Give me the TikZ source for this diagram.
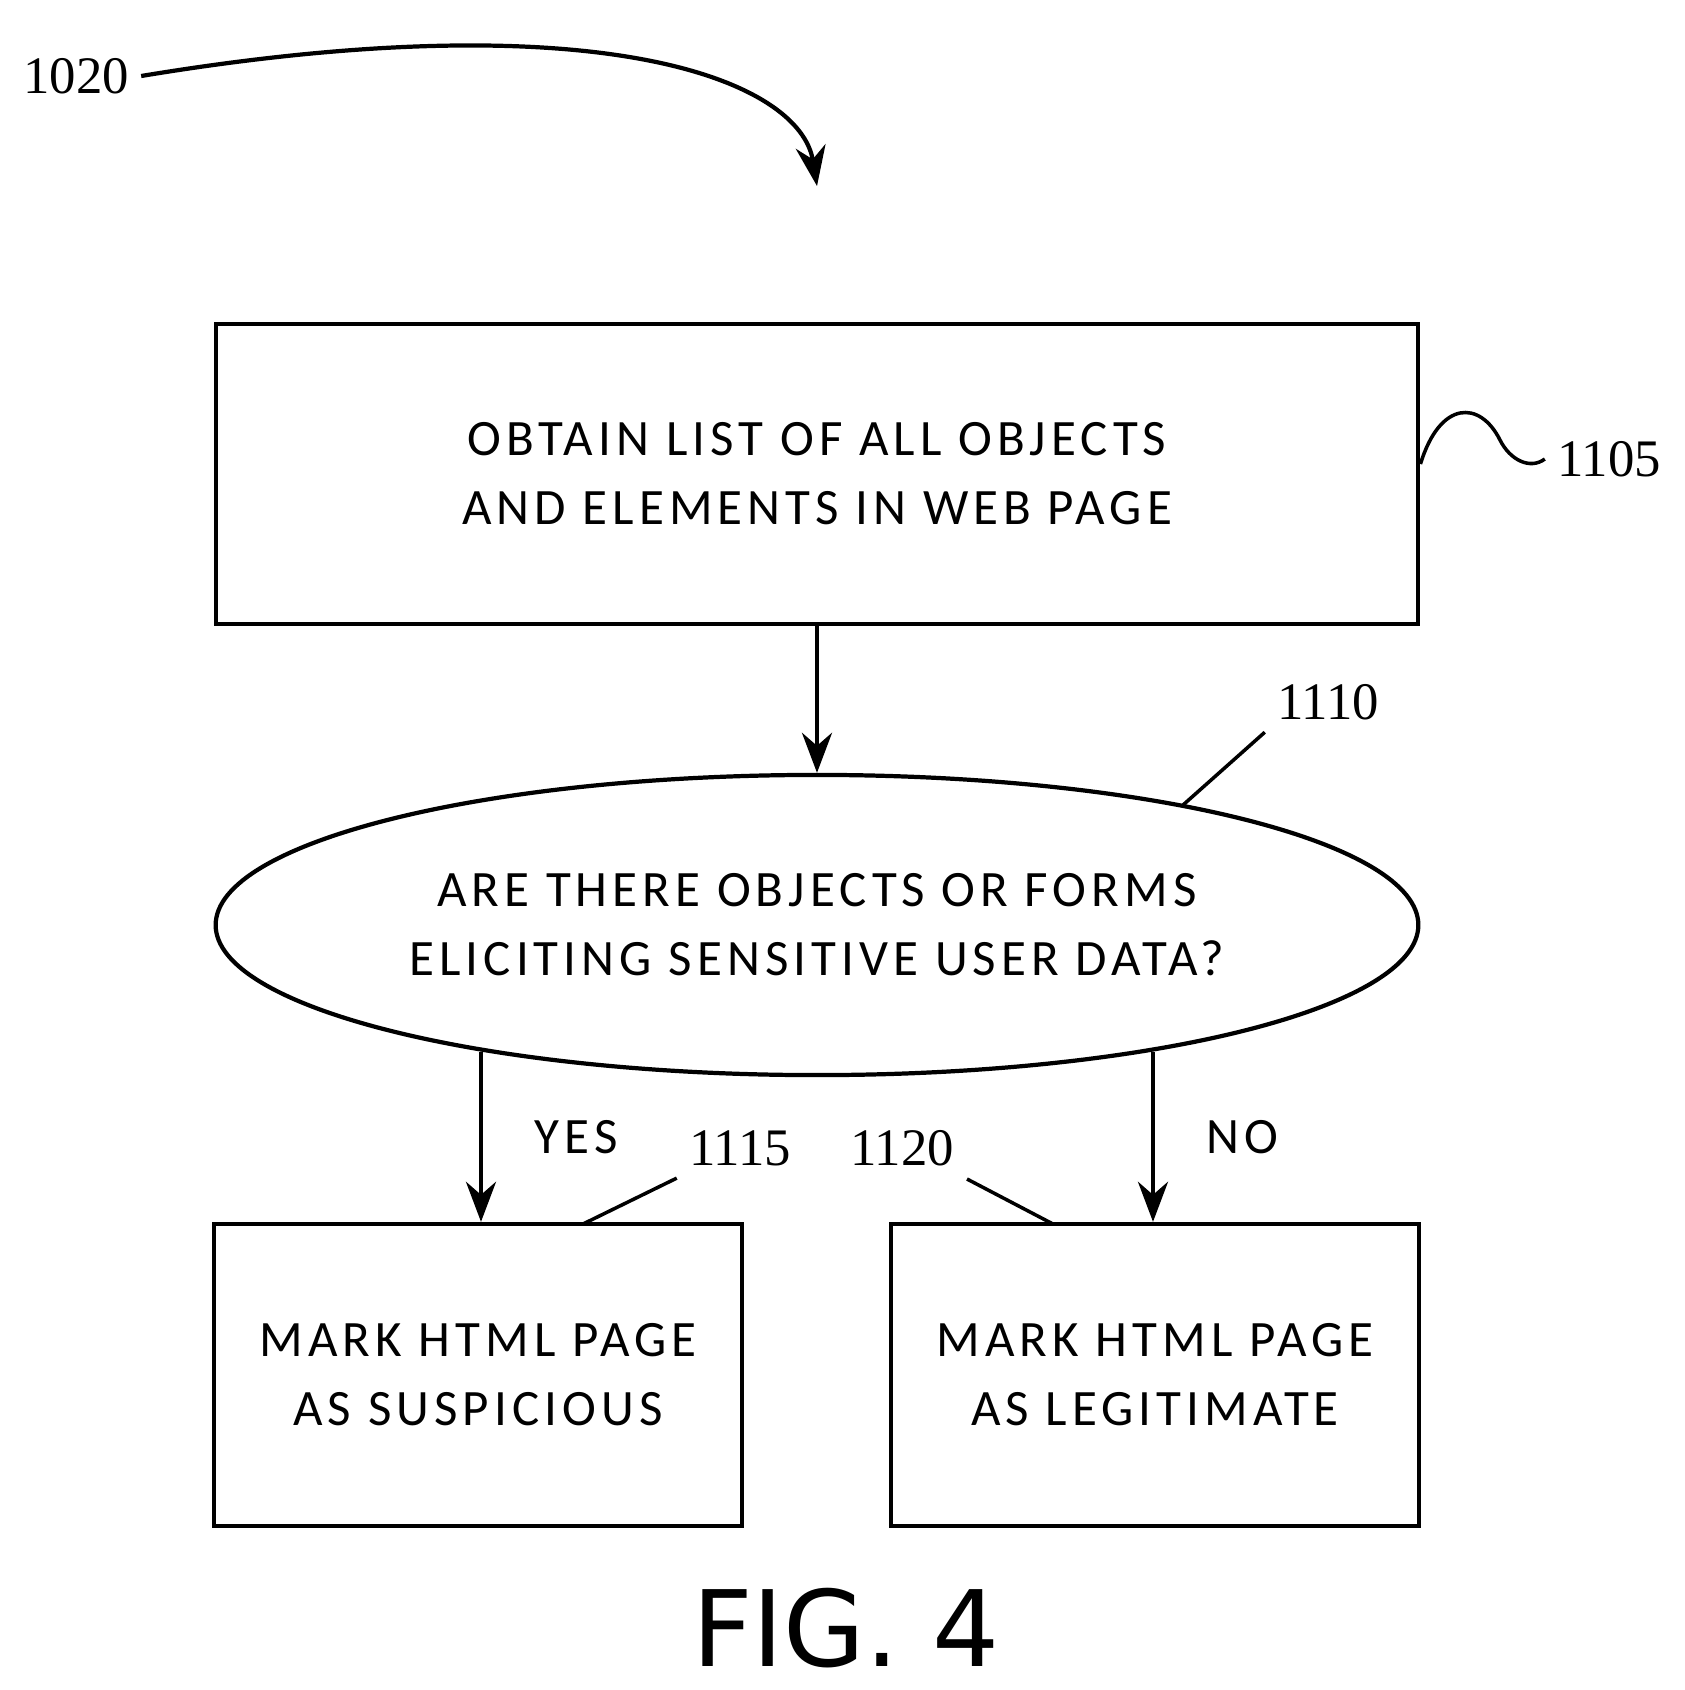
\documentclass[tikz,border=0pt]{standalone}
\usepackage{fontspec}
\setmainfont{Carlito}[LetterSpace=10]
\newfontfamily\numfont{Liberation Serif}
\newfontfamily\figfont{DejaVu Sans}
\usetikzlibrary{arrows.meta,shapes.geometric,positioning}

\begin{document}
\begin{tikzpicture}[x=0.01cm,y=-0.01cm,
	box/.style={draw, line width=1.2pt, minimum width=12.02cm, minimum height=3cm, align=center, font=\fontsize{14.5}{19.6}\selectfont},
	smallbox/.style={box, minimum width=5.28cm, minimum height=3.02cm},
	decision/.style={box, ellipse},
	flow/.style={-{Stealth[length=4mm,width=3mm]}, line width=1.2pt},
	refnum/.style={font=\numfont\fontsize{15}{15}\selectfont},
	leader/.style={line width=1pt}]
	\useasboundingbox (0,0) rectangle (1685,1690);

	% steps
	\node [box] (obtain) at (817,474) {OBTAIN LIST OF ALL OBJECTS\\AND ELEMENTS IN WEB PAGE};
	\node [decision, minimum height=3cm] (check) at (817,925) {ARE THERE OBJECTS OR FORMS\\ELICITING SENSITIVE USER DATA?};
	\node [smallbox] (suspicious) at (478,1375) {MARK HTML PAGE\\AS SUSPICIOUS};
	\node [smallbox] (legit) at (1155,1375) {MARK HTML PAGE\\AS LEGITIMATE};

	% reference numerals
	\node [refnum] (r1020) at (76,76) {1020};
	\node [refnum] (r1105) at (1609,459) {1105};
	\node [refnum] (r1110) at (1328,702) {1110};
	\node [refnum] (r1115) at (740,1148) {1115};
	\node [refnum] (r1120) at (902,1148) {1120};
	\coordinate (entry) at (817,186);

	% flow
	\draw [flow] (r1020.east) .. controls (600,0) and (800,80) .. (entry);
	\draw [flow] (obtain) -- (check);
	\draw [flow] (481,1052) -- node [right=4mm, font=\fontsize{14.5}{14.5}\selectfont] {YES} (suspicious.north -| 481,0);
	\draw [flow] (1153,1052) -- node [right=4mm, font=\fontsize{14.5}{14.5}\selectfont] {NO} (legit.north -| 1153,0);

	% leaders
	\draw [leader] (obtain.east |- 0,464) .. controls (1440,400) and (1480,400) .. (1500,440) .. controls (1510,460) and (1530,470) .. (r1105.west);
	\draw [leader] (r1110.south west) -- (1183,805);
	\draw [leader] (r1115.south west) -- (583,1224);
	\draw [leader] (967,1179) -- (1053,1224);

	\node [font=\figfont\fontsize{30}{30}\selectfont] (fig) at (846,1628) {FIG. 4};
\end{tikzpicture}
\end{document}
